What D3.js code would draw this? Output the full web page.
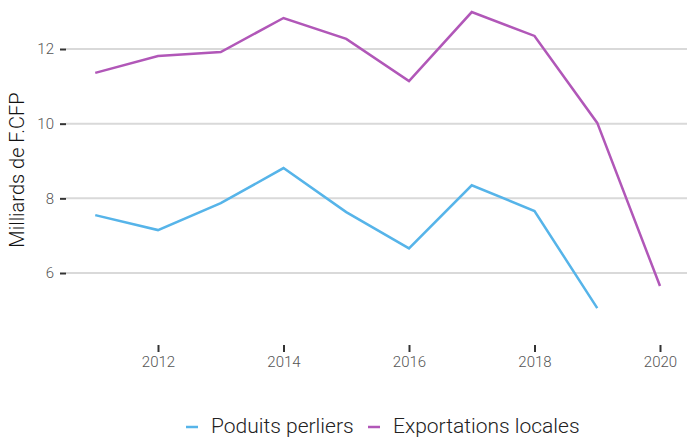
<!DOCTYPE html>
<html lang="fr">
<head>
<meta charset="UTF-8">
<title>Exportations</title>
<script src="https://cdn.jsdelivr.net/npm/d3@7"></script>
<style>
html,body {margin:0;padding:0;background:#fff;}
svg {display:block;font-family:Roboto, sans-serif;}
.tick-label {font-family:Roboto, sans-serif;font-size:15px;font-weight:300;fill:#555;}
.legend-label {font-family:Roboto, sans-serif;font-size:21px;font-weight:300;fill:#222;}
.axis-title {font-family:Roboto, sans-serif;font-size:20px;font-weight:300;fill:#111;}
</style>
</head>
<body>
<div id="chart"></div>
<script>
// donnees
const years = [2011, 2012, 2013, 2014, 2015, 2016, 2017, 2018, 2019, 2020];
const perliers = [7.55, 7.15, 7.87, 8.81, 7.63, 6.66, 8.35, 7.66, 5.06, null];
const exportations = [11.36, 11.81, 11.92, 12.83, 12.27, 11.14, 12.99, 12.35, 10.02, 5.65];
const yTicks = [6, 8, 10, 12];
const xTicks = [2012, 2014, 2016, 2018, 2020];
const seriesNames = ['Poduits perliers', 'Exportations locales'];
const seriesColors = ['#56b4e9', '#b157b8'];

const W = 687, H = 437;
const svg = d3.select('#chart').append('svg').attr('width', W).attr('height', H);

let x = d3.scaleLinear().domain([2012, 2020]).range([158, 660]);
let y = d3.scaleLinear().domain([6, 12]).range([273, 49]);

// grille horizontale
svg.append('g').selectAll('line').data(yTicks).join('line')
	.attr('x1', 66).attr('x2', W)
	.attr('y1', d => y(d)).attr('y2', d => y(d))
	.attr('stroke', '#d9d9d9').attr('stroke-width', 2);

// axe y
let gY = svg.append('g').attr('transform', 'translate(66,0)')
	.call(d3.axisLeft(y).tickValues(yTicks).tickFormat(d3.format('d')).tickSize(6).tickPadding(6))
	.attr('font-family', null).attr('font-size', null);
gY.select('.domain').remove();
gY.selectAll('.tick line').attr('stroke', '#333').attr('stroke-width', 2);
gY.selectAll('.tick text').attr('class', 'tick-label');

// axe x
let gX = svg.append('g').attr('transform', 'translate(0,345)')
	.call(d3.axisBottom(x).tickValues(xTicks).tickFormat(d3.format('d')).tickSize(7).tickPadding(4))
	.attr('font-family', null).attr('font-size', null);
gX.select('.domain').remove();
gX.selectAll('.tick line').attr('stroke', '#333').attr('stroke-width', 2);
gX.selectAll('.tick text').attr('class', 'tick-label');

// titre axe y
svg.append('text').attr('class', 'axis-title')
	.attr('transform', 'translate(24,170) rotate(-90)')
	.attr('text-anchor', 'middle')
	.text('Milliards de F.CFP');

// lignes
const line = d3.line()
	.defined(d => d[1] != null)
	.x(d => x(d[0])).y(d => y(d[1]));

[perliers, exportations].forEach(function (vals, i) {
	svg.append('path')
		.datum(years.map((yr, j) => [yr, vals[j]]))
		.attr('fill', 'none')
		.attr('stroke', seriesColors[i])
		.attr('stroke-width', 2.5)
		.attr('d', line);
});

// legende
const legendX = [186, 368];
seriesNames.forEach(function (name, i) {
	let g = svg.append('g').attr('transform', 'translate(' + legendX[i] + ',427)');
	g.append('line').attr('x1', 0).attr('x2', 12).attr('y1', 0).attr('y2', 0)
		.attr('stroke', seriesColors[i]).attr('stroke-width', 2.5);
	g.append('text').attr('class', 'legend-label')
		.attr('x', 25).attr('y', 6).text(name);
});
</script>
</body>
</html>
